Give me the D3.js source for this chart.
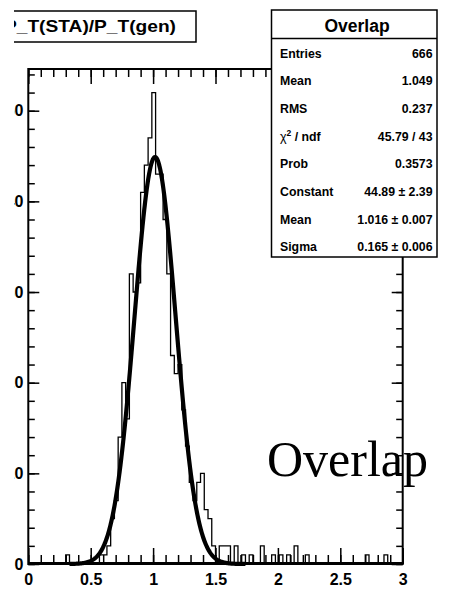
<!DOCTYPE html>
<html>
<head>
<meta charset="utf-8">
<script src="https://cdn.jsdelivr.net/npm/d3@7/dist/d3.min.js"></script>
<style>
  html, body { margin: 0; padding: 0; background: #fff; }
  svg { display: block; }
</style>
</head>
<body>
<div id="chart"></div>
<script>
// ---------------- data ----------------
const histTitle = "P_T(STA)/P_T(gen)";
const statsTitle = "Overlap";
const xRange = [0, 3];
const nBins = 100;
// bin contents (bin width 0.03)
const binCounts = [
  0,0,0,0,0,0,0,0,0,0,   // 0.00-0.30
  1,0,0,0,0,0,0,0,0,1,   // 0.30-0.60
  1,2,5,7,14,20,16,32,30,31, // 0.60-0.90
  41,44,47,52,43,43,38,32,23,21, // 0.90-1.20
  22,17,13,9,7,9,10,6,5,2, // 1.20-1.50
  0,2,2,2,0,2,0,1,0,1,   // 1.50-1.80
  0,0,2,0,0,1,0,1,0,1,   // 1.80-2.10
  0,2,0,0,1,0,0,0,0,0,   // 2.10-2.40
  0,0,0,0,0,0,0,0,0,0,   // 2.40-2.70
  1,0,0,0,0,1,0,0,0,0    // 2.70-3.00
];
const fitParams = { constant: 44.89, mean: 1.016, sigma: 0.165 };
const fitRange = [0.33, 1.74];
const yMax = 54.6;
const xMajorTicks = [0, 0.5, 1, 1.5, 2, 2.5, 3];
const xTickLabels = ["0", "0.5", "1", "1.5", "2", "2.5", "3"];
const xMinorTicks = d3.range(0, 31).map(i => i / 10);
const yMajorTicks = [0, 10, 20, 30, 40, 50];
const yTickLabels = ["0", "10", "20", "30", "40", "50"];
const yMinorTicks = d3.range(0, 28).map(i => i * 2);
const statsLabels = ["Entries", "Mean", "RMS", "CHI2", "Prob", "Constant", "Mean", "Sigma"];
const statsValues = ["666", "1.049", "0.237", "45.79 / 43", "0.3573", "44.89 \u00b1 2.39", "1.016 \u00b1 0.007", "0.165 \u00b1 0.006"];
const overlayLabel = "Overlap";

// ---------------- layout ----------------
const W = 453, H = 599;
const frame = { left: 28.3, right: 402.7, top: 69, bottom: 564 };

const svg = d3.select("#chart").append("svg")
  .attr("width", W).attr("height", H)
  .style("background", "#fff");

svg.append("defs").append("clipPath").attr("id", "pageclip")
  .append("rect").attr("x", 14).attr("y", 0).attr("width", W - 14).attr("height", H);

const root = svg.append("g").attr("clip-path", "url(#pageclip)");

const x = d3.scaleLinear().domain(xRange).range([frame.left, frame.right]);
const y = d3.scaleLinear().domain([0, yMax]).range([frame.bottom, frame.top]);

const binW = (xRange[1] - xRange[0]) / nBins;

const sansBold = "'Liberation Sans', Arial, Helvetica, sans-serif";

// ---------------- histogram ----------------
const stepData = binCounts.map((c, i) => ({ x: xRange[0] + i * binW, c }));
stepData.push({ x: xRange[1], c: binCounts[nBins - 1] });
const stepLine = d3.line().x(d => x(d.x)).y(d => y(d.c)).curve(d3.curveStepAfter);
const histPath = [{ x: xRange[0], c: 0 }].concat(stepData, [{ x: xRange[1], c: 0 }]);
root.append("path")
  .attr("d", stepLine(histPath))
  .attr("fill", "none").attr("stroke", "#000").attr("stroke-width", 1.3);

// baseline emphasis (histogram zero line + frame)
root.append("line")
  .attr("x1", x(0)).attr("x2", x(3)).attr("y1", y(0) - 0.5).attr("y2", y(0) - 0.5)
  .attr("stroke", "#000").attr("stroke-width", 3);

// ---------------- fit curve ----------------
const fitX = d3.range(0, 401).map(i => fitRange[0] + (fitRange[1] - fitRange[0]) * i / 400);
const gauss = v => fitParams.constant * Math.exp(-0.5 * Math.pow((v - fitParams.mean) / fitParams.sigma, 2));
root.append("path")
  .attr("d", d3.line().x(d => x(d)).y(d => y(gauss(d)))(fitX))
  .attr("fill", "none").attr("stroke", "#000").attr("stroke-width", 4.2)
  .attr("stroke-linejoin", "round");

// ---------------- big overlay label ----------------
root.append("text")
  .attr("x", 267).attr("y", 476)
  .attr("font-family", "'Liberation Serif', 'Times New Roman', serif")
  .attr("font-size", 50)
  .attr("fill", "#000")
  .text(overlayLabel);

// ---------------- axes ----------------
function styleAxis(g) {
  g.select(".domain").remove();
  g.selectAll(".tick line").attr("stroke", "#000").attr("stroke-width", 1.5);
  g.selectAll(".tick text").attr("fill", "#000")
    .attr("font-family", sansBold).attr("font-weight", "bold").attr("font-size", 16);
}

// bottom
root.append("g").attr("transform", `translate(0,${frame.bottom})`)
  .call(d3.axisBottom(x).tickValues(xMinorTicks).tickSize(-9).tickFormat(""))
  .call(styleAxis);
root.append("g").attr("transform", `translate(0,${frame.bottom})`)
  .call(d3.axisBottom(x).tickValues(xMajorTicks).tickSize(-16).tickPadding(10)
    .tickFormat((d, i) => xTickLabels[i]))
  .call(styleAxis);
// top
root.append("g").attr("transform", `translate(0,${frame.top})`)
  .call(d3.axisTop(x).tickValues(xMinorTicks).tickSize(-8).tickFormat(""))
  .call(styleAxis);
root.append("g").attr("transform", `translate(0,${frame.top})`)
  .call(d3.axisTop(x).tickValues(xMajorTicks).tickSize(-15).tickFormat(""))
  .call(styleAxis);
// left
root.append("g").attr("transform", `translate(${frame.left},0)`)
  .call(d3.axisLeft(y).tickValues(yMinorTicks).tickSize(-6.5).tickFormat(""))
  .call(styleAxis);
root.append("g").attr("transform", `translate(${frame.left},0)`)
  .call(d3.axisLeft(y).tickValues(yMajorTicks).tickSize(-11).tickPadding(5)
    .tickFormat((d, i) => yTickLabels[i]))
  .call(styleAxis);
// right
root.append("g").attr("transform", `translate(${frame.right},0)`)
  .call(d3.axisRight(y).tickValues(yMinorTicks).tickSize(-6.5).tickFormat(""))
  .call(styleAxis);
root.append("g").attr("transform", `translate(${frame.right},0)`)
  .call(d3.axisRight(y).tickValues(yMajorTicks).tickSize(-11).tickFormat(""))
  .call(styleAxis);

// frame
root.append("rect")
  .attr("x", frame.left).attr("y", frame.top)
  .attr("width", frame.right - frame.left).attr("height", frame.bottom - frame.top)
  .attr("fill", "none").attr("stroke", "#000").attr("stroke-width", 2);

// ---------------- title box ----------------
root.append("rect")
  .attr("x", -10).attr("y", 11).attr("width", 206).attr("height", 31)
  .attr("fill", "#fff").attr("stroke", "#000").attr("stroke-width", 1.5);
root.append("text")
  .attr("x", 4).attr("y", 32)
  .attr("font-family", sansBold).attr("font-weight", "bold").attr("font-size", 17)
  .attr("textLength", 172).attr("lengthAdjust", "spacingAndGlyphs")
  .attr("fill", "#000")
  .text(histTitle);

// ---------------- stats box ----------------
const sb = { x: 271.5, y: 10, w: 165.5, h: 247, header: 28.5 };
const stats = root.append("g");
stats.append("rect")
  .attr("x", sb.x).attr("y", sb.y).attr("width", sb.w).attr("height", sb.h)
  .attr("fill", "#fff").attr("stroke", "#000").attr("stroke-width", 1.5);
stats.append("line")
  .attr("x1", sb.x).attr("x2", sb.x + sb.w)
  .attr("y1", sb.y + sb.header).attr("y2", sb.y + sb.header)
  .attr("stroke", "#000").attr("stroke-width", 1.5);
stats.append("text")
  .attr("x", 357).attr("y", 31.5).attr("text-anchor", "middle")
  .attr("font-family", sansBold).attr("font-weight", "bold").attr("font-size", 17.5)
  .attr("fill", "#000").text(statsTitle);

const rowY = d3.scaleLinear().domain([0, statsLabels.length - 1]).range([53.3, 246.7]);
statsLabels.forEach((lab, i) => {
  const t = stats.append("text")
    .attr("x", 280).attr("y", rowY(i) + 4.5)
    .attr("font-family", sansBold).attr("font-weight", "bold").attr("font-size", 12.3)
    .attr("fill", "#000");
  if (lab === "CHI2") {
    t.append("tspan").attr("font-weight", "normal").attr("font-size", 12.5).text("\u03c7");
    t.append("tspan").attr("font-size", 8.5).attr("dy", -5).text("2");
    t.append("tspan").attr("dy", 5).text(" / ndf");
  } else {
    t.text(lab);
  }
  stats.append("text")
    .attr("x", 432.5).attr("y", rowY(i) + 4.5).attr("text-anchor", "end")
    .attr("font-family", sansBold).attr("font-weight", "bold").attr("font-size", 12.3)
    .attr("fill", "#000").text(statsValues[i]);
});
</script>
</body>
</html>
